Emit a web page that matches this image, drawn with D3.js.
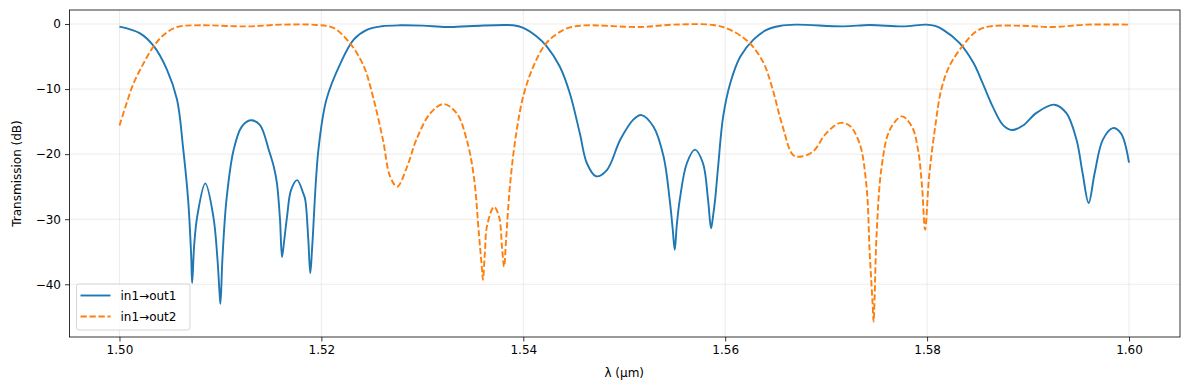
<!DOCTYPE html>
<html>
<head>
<meta charset="utf-8">
<script src="https://cdn.jsdelivr.net/npm/d3@7"></script>
<style>
  body { margin: 0; background: #fff; }
  text { font-family: "DejaVu Sans", sans-serif; }
</style>
</head>
<body>
<div id="chart"></div>
<script>
// wavelength (um) / transmission (dB)
const out1Lambda = [1.5000, 1.5020, 1.5034, 1.5047, 1.5057, 1.5063, 1.5068, 1.5071, 1.5072, 1.5074,
  1.5077, 1.5085, 1.5093, 1.5097, 1.5099, 1.5100, 1.5102, 1.5106, 1.5113, 1.5121, 1.5130, 1.5139,
  1.5148, 1.5153, 1.5156, 1.5159, 1.5161, 1.5163, 1.5166, 1.5170, 1.5176, 1.5182, 1.5184, 1.5187, 1.5189, 1.5191,
  1.5197, 1.5205, 1.5219, 1.5232, 1.5245, 1.5260, 1.5278, 1.5300, 1.5324, 1.5350, 1.5390, 1.5400,
  1.5413, 1.5423, 1.5436, 1.5446, 1.5456, 1.5463, 1.5472, 1.5483, 1.5496, 1.5509, 1.5517, 1.5529,
  1.5539, 1.5545, 1.5548, 1.5550, 1.5552, 1.5555, 1.5562, 1.5570, 1.5578, 1.5583, 1.5586, 1.5588,
  1.5590, 1.5593, 1.5598, 1.5605, 1.5615, 1.5628, 1.5641, 1.5654, 1.5670, 1.5717, 1.5743, 1.5776,
  1.5799, 1.5808, 1.5816, 1.5832, 1.5846, 1.5855, 1.5865, 1.5875, 1.5884, 1.5895, 1.5908, 1.5926,
  1.5938, 1.5948, 1.5954, 1.5960, 1.5966, 1.5974, 1.5984, 1.5992, 1.6000];
const out1Db = [-0.4, -1.4, -3.4, -7.0, -11.6, -19.0, -27.0, -35.5, -39.8, -34.0,
  -29.6, -24.5, -29.6, -36.0, -41.0, -43.0, -36.0, -27.0, -19.4, -15.8, -14.8, -15.5,
  -19.4, -22.0, -24.5, -30.0, -35.8, -33.5, -29.6, -25.5, -24.0, -26.0, -27.0, -33.0, -38.3, -34.0,
  -19.4, -11.6, -6.0, -2.4, -0.9, -0.35, -0.2, -0.25, -0.46, -0.3, -0.2, -0.6,
  -1.9, -3.4, -6.5, -10.6, -16.8, -21.4, -23.4, -22.4, -17.8, -14.7, -14.0, -15.8,
  -20.4, -27.0, -31.5, -34.7, -31.0, -27.0, -21.4, -19.3, -21.4, -27.0, -31.4, -29.5,
  -27.0, -21.9, -14.2, -9.1, -5.0, -2.4, -0.9, -0.3, -0.1, -0.37, -0.15, -0.37,
  -0.1, -0.3, -0.9, -2.9, -6.0, -9.1, -12.7, -15.5, -16.3, -15.6, -13.7, -12.4,
  -13.7, -17.8, -22.9, -27.5, -22.9, -17.8, -16.0, -16.8, -21.3];

const out2Lambda = [1.5000, 1.5007, 1.5014, 1.5024, 1.5034, 1.5044, 1.5057, 1.5080, 1.5126, 1.5162,
  1.5195, 1.5212, 1.5228, 1.5242, 1.5251, 1.5261, 1.5268, 1.5275, 1.5285, 1.5294, 1.5308, 1.5321,
  1.5334, 1.5344, 1.5351, 1.5356, 1.5359, 1.5360, 1.5362, 1.5364, 1.5371, 1.5376, 1.5379, 1.5381,
  1.5383, 1.5387, 1.5393, 1.5400, 1.5410, 1.5423, 1.5440, 1.5456, 1.5516, 1.5549, 1.5588, 1.5605,
  1.5624, 1.5638, 1.5646, 1.5657, 1.5667, 1.5674, 1.5687, 1.5700, 1.5714, 1.5723, 1.5733, 1.5740,
  1.5743, 1.5746, 1.5747, 1.5748, 1.5750, 1.5755, 1.5763, 1.5775, 1.5785, 1.5791, 1.5795, 1.5798,
  1.5802, 1.5808, 1.5814, 1.5822, 1.5836, 1.5849, 1.5862, 1.5892, 1.5925, 1.5958, 1.6000];
const out2Db = [-15.6, -12.2, -9.1, -6.0, -3.4, -1.65, -0.46, -0.2, -0.37, -0.1,
  -0.15, -0.6, -2.9, -6.5, -11.1, -17.8, -23.4, -25.0, -21.9, -17.8, -13.7, -12.3,
  -13.7, -17.8, -23.4, -32.2, -37.5, -39.3, -35.0, -31.1, -28.1, -29.6, -34.5, -37.3,
  -33.0, -24.5, -16.8, -11.1, -6.5, -2.9, -0.9, -0.26, -0.46, -0.1, -0.15, -0.9,
  -2.9, -6.0, -9.5, -15.8, -20.1, -20.4, -19.6, -16.8, -15.2, -15.6, -18.3, -25.0,
  -34.7, -43.0, -45.75, -42.0, -32.2, -21.9, -16.3, -14.2, -15.8, -19.3, -25.0, -31.6,
  -23.4, -15.8, -10.1, -6.5, -3.2, -1.1, -0.37, -0.26, -0.46, -0.1, -0.1];

const seriesNames = ["in1\u2192out1", "in1\u2192out2"];
const xTicks = [1.50, 1.52, 1.54, 1.56, 1.58, 1.60];
const yTicks = [0, -10, -20, -30, -40];

const W = 1189, H = 390;
const margin = {top: 10, right: 9, bottom: 53, left: 69.5};
const width = W - margin.left - margin.right;
const height = H - margin.top - margin.bottom;

const svg = d3.select("#chart").append("svg")
    .attr("width", W).attr("height", H);
const g = svg.append("g")
    .attr("transform", `translate(${margin.left},${margin.top})`);

const x = d3.scaleLinear().domain([1.49505, 1.60505]).range([0, width]);
const y = d3.scaleLinear().domain([-48.1, 2.15]).range([height, 0]);

// grid
g.append("g").selectAll("line").data(xTicks).enter().append("line")
    .attr("x1", d => x(d)).attr("x2", d => x(d))
    .attr("y1", 0).attr("y2", height)
    .attr("stroke", "#b0b0b0").attr("stroke-opacity", 0.3).attr("stroke-width", 0.8);
g.append("g").selectAll("line").data(yTicks).enter().append("line")
    .attr("x1", 0).attr("x2", width)
    .attr("y1", d => y(d)).attr("y2", d => y(d))
    .attr("stroke", "#b0b0b0").attr("stroke-opacity", 0.3).attr("stroke-width", 0.8);

const line = d3.line()
    .x(d => x(d[0])).y(d => y(d[1]))
    .curve(d3.curveCatmullRom.alpha(0.5));

g.append("path")
    .datum(d3.zip(out1Lambda, out1Db))
    .attr("fill", "none").attr("stroke", "#1f77b4").attr("stroke-width", 1.9)
    .attr("d", line);
g.append("path")
    .datum(d3.zip(out2Lambda, out2Db))
    .attr("fill", "none").attr("stroke", "#ff7f0e").attr("stroke-width", 1.9)
    .attr("stroke-dasharray", "6.3,2.7")
    .attr("d", line);

// axes
const xAxis = g.append("g")
    .attr("transform", `translate(0,${height})`)
    .call(d3.axisBottom(x).tickValues(xTicks).tickFormat(d3.format(".2f")).tickSizeOuter(0).tickSize(4.5).tickPadding(4));
const yAxis = g.append("g")
    .call(d3.axisLeft(y).tickValues(yTicks).tickFormat(d => d < 0 ? "\u2212" + Math.abs(d) : d).tickSizeOuter(0).tickSize(4.5).tickPadding(4));
[xAxis, yAxis].forEach(a => {
  a.select(".domain").remove();
  a.selectAll("line").attr("stroke", "#000").attr("stroke-width", 0.8);
  a.selectAll("text").attr("font-size", 12).attr("fill", "#000")
    .attr("font-family", "DejaVu Sans, sans-serif");
});

g.append("rect")
    .attr("width", width).attr("height", height)
    .attr("fill", "none").attr("stroke", "#000").attr("stroke-width", 0.8);

// axis labels
svg.append("text")
    .attr("x", margin.left + x(1.55)).attr("y", 377)
    .attr("text-anchor", "middle").attr("font-size", 12)
    .text("\u03bb (\u03bcm)");
svg.append("text")
    .attr("transform", `translate(21,${margin.top + height / 2}) rotate(-90)`)
    .attr("text-anchor", "middle").attr("font-size", 12)
    .text("Transmission (dB)");

// legend
const leg = svg.append("g").attr("transform", "translate(76.5,284)");
leg.append("rect")
    .attr("width", 113.5).attr("height", 46).attr("rx", 2.5)
    .attr("fill", "#fff").attr("fill-opacity", 0.8)
    .attr("stroke", "#cccccc").attr("stroke-width", 0.8);
const legItems = [
  {name: seriesNames[0], color: "#1f77b4", dash: null},
  {name: seriesNames[1], color: "#ff7f0e", dash: "6.3,2.7"}
];
legItems.forEach((it, i) => {
  const yy = 11.5 + i * 21;
  leg.append("line")
      .attr("x1", 4).attr("x2", 34).attr("y1", yy).attr("y2", yy)
      .attr("stroke", it.color).attr("stroke-width", 1.9)
      .attr("stroke-dasharray", it.dash);
  leg.append("text")
      .attr("x", 44).attr("y", yy + 4.5)
      .attr("font-size", 12).text(it.name);
});
</script>
</body>
</html>
